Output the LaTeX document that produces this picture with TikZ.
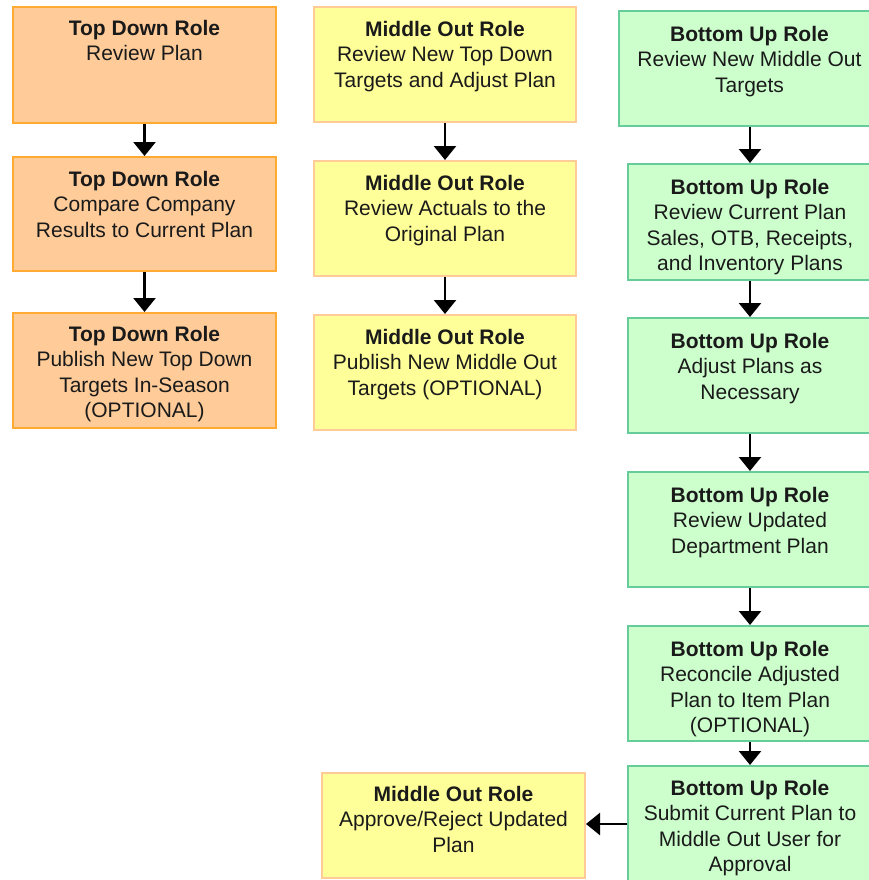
\documentclass[tikz,border=0pt]{standalone}
\usepackage{fontspec}
\setmainfont{Liberation Sans}
\usetikzlibrary{arrows.meta}
\definecolor{orFill}{HTML}{FFCC99}
\definecolor{orDraw}{HTML}{FFAA33}
\definecolor{yeFill}{HTML}{FFFF99}
\definecolor{yeDraw}{HTML}{FFCC99}
\definecolor{grFill}{HTML}{CCFFCC}
\definecolor{grDraw}{HTML}{66CC99}
\definecolor{txtCol}{HTML}{1A1A1A}
\tikzset{
  box/.style={rectangle, line width=2pt, inner sep=0pt},
  topbox/.style={box, fill=orFill, draw=orDraw, minimum width=263pt},
  midbox/.style={box, fill=yeFill, draw=yeDraw, minimum width=262pt},
  botbox/.style={box, fill=grFill, draw=grDraw, minimum width=244pt},
  txt/.style={anchor=north, inner sep=0pt, align=center, text=txtCol,
    font=\fontsize{21}{25.5}\selectfont},
  arr/.style={line width=2.5pt, -{Triangle[width=22pt,length=14pt]}},
}
\begin{document}
\begin{tikzpicture}[x=1pt,y=-1pt]
\useasboundingbox (0,0) rectangle (869,880);
\fill[white] (0,0) rectangle (869,880);
\clip (0,0) rectangle (869,880);
% left column
\node[topbox, minimum height=116pt] (l1) at (144.5,65) {};
\node[topbox, minimum height=114pt] (l2) at (144.5,214) {};
\node[topbox, minimum height=115pt] (l3) at (144.5,370.5) {};
% middle column
\node[midbox, minimum height=115pt] (m1) at (445,64.5) {};
\node[midbox, minimum height=115pt] (m2) at (445,218.5) {};
\node[midbox, minimum height=115pt] (m3) at (445,372.5) {};
\node[midbox, minimum width=263pt, minimum height=105pt] (mb) at (453.5,825.5) {};
% right column
\node[botbox, minimum width=261pt, minimum height=115pt] (r1) at (749.5,68.5) {};
\node[botbox, minimum height=116pt] (r2) at (750,222) {};
\node[botbox, minimum height=115pt] (r3) at (750,375.5) {};
\node[botbox, minimum height=115pt] (r4) at (750,529.5) {};
\node[botbox, minimum height=115pt] (r5) at (750,683.5) {};
\node[botbox, minimum height=116pt] (r6) at (750,824) {};
% texts
\node[txt] (l1t) at ([yshift=-14pt]l1.north) {\textbf{Top Down Role}\\Review Plan};
\node[txt] (l2t) at ([yshift=-15pt]l2.north) {\textbf{Top Down Role}\\Compare Company\\Results to Current Plan};
\node[txt] (l3t) at ([yshift=-14pt]l3.north) {\textbf{Top Down Role}\\Publish New Top Down\\Targets In-Season\\(OPTIONAL)};
\node[txt] (m1t) at ([yshift=-15pt]m1.north) {\textbf{Middle Out Role}\\Review New Top Down\\Targets and Adjust Plan};
\node[txt] (m2t) at ([yshift=-15pt]m2.north) {\textbf{Middle Out Role}\\Review Actuals to the\\Original Plan};
\node[txt] (m3t) at ([yshift=-15pt]m3.north) {\textbf{Middle Out Role}\\Publish New Middle Out\\Targets (OPTIONAL)};
\node[txt] (mbt) at ([yshift=-14pt]mb.north) {\textbf{Middle Out Role}\\Approve/Reject Updated\\Plan};
\node[txt] (r1t) at ([yshift=-16pt]r1.north) {\textbf{Bottom Up Role}\\Review New Middle Out\\Targets};
\node[txt] (r2t) at ([yshift=-16pt]r2.north) {\textbf{Bottom Up Role}\\Review Current Plan\\Sales, OTB, Receipts,\\and Inventory Plans};
\node[txt] (r3t) at ([yshift=-16pt]r3.north) {\textbf{Bottom Up Role}\\Adjust Plans as\\Necessary};
\node[txt] (r4t) at ([yshift=-16pt]r4.north) {\textbf{Bottom Up Role}\\Review Updated\\Department Plan};
\node[txt] (r5t) at ([yshift=-16pt]r5.north) {\textbf{Bottom Up Role}\\Reconcile Adjusted\\Plan to Item Plan\\(OPTIONAL)};
\node[txt] (r6t) at ([yshift=-15pt]r6.north) {\textbf{Bottom Up Role}\\Submit Current Plan to\\Middle Out User for\\Approval};
% connectors
\draw[arr] (l1) -- (l2);
\draw[arr] (l2) -- (l3);
\draw[arr] (m1) -- (m2);
\draw[arr] (m2) -- (m3);
\draw[arr] (r1.south -| r2.north) -- (r2.north);
\draw[arr] (r2) -- (r3);
\draw[arr] (r3) -- (r4);
\draw[arr] (r4) -- (r5);
\draw[arr] (r5) -- (r6);
\draw[arr] (r6.west) -- (r6.west -| mb.east);
\end{tikzpicture}
\end{document}
